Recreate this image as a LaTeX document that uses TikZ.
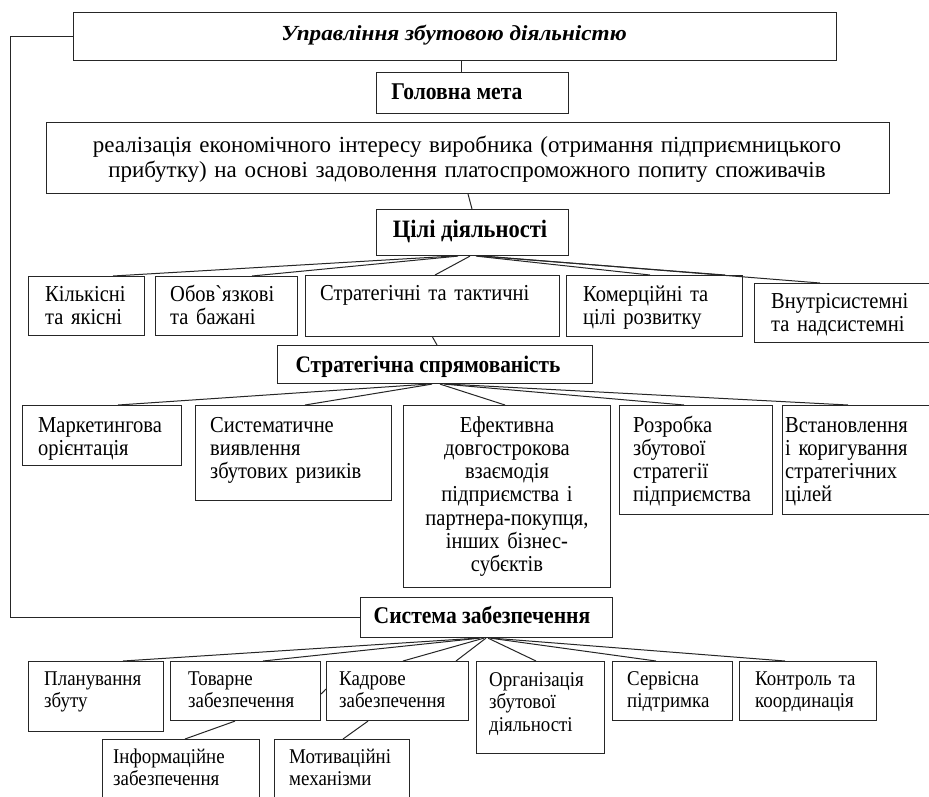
\documentclass[tikz,border=0pt]{standalone}
\usepackage{fontspec}
\setmainfont{Liberation Serif}[Ligatures=TeXOff, FakeStretch=0.9]
\newfontfamily\plainserif{Liberation Serif}[Ligatures=TeXOff]
\newfontfamily\wideserif{Liberation Serif}[Ligatures=TeXOff, FakeStretch=1.08]
\newcommand\rb[5]{\node[box, minimum width={(#4-#2)*1pt}, minimum height={(#5-#3)*1pt}] (#1) at (#2,#3) {};}
\tikzset{
 box/.style={draw=black!85, line width=1.1pt, inner sep=0pt, anchor=north west},
 tl/.style={inner sep=0pt, anchor=base west, align=left, text width=240pt, font=\fontsize{22.8}{23.3}\selectfont},
 tc/.style={inner sep=0pt, anchor=base, align=center, text width=240pt, font=\fontsize{22.8}{23.3}\selectfont},
 ts/.style={tl, font=\fontsize{21}{22.5}\selectfont},
 ttl/.style={inner sep=0pt, anchor=base, font=\bfseries\fontsize{24}{26}\selectfont},
 ln/.style={draw=black!85, line width=1pt},
}
\begin{document}
\begin{tikzpicture}[x=1pt,y=-1pt]
\useasboundingbox (0,0) rectangle (929,796);
\clip (0,0) rectangle (929,796);
\fill[white] (0,0) rectangle (929,796);
% boxes
\rb{top}{73}{12}{836}{60}
\node[ttl, font=\wideserif\bfseries\itshape\fontsize{21.5}{24}\selectfont] (top-t) at (454,40) {Управління збутовою діяльністю};
\rb{gol}{376}{72}{568}{113}
\node[ttl] (gol-t) at (457,99) {Головна мета};
\rb{big}{46}{122}{889}{193}
\node[tc, text width=840pt, font=\plainserif\fontsize{23}{25}\selectfont] (big-t) at (467,152) {реалізація економічного інтересу виробника (отримання підприємницького\\прибутку) на основі задоволення платоспроможного попиту споживачів};
\rb{cily}{376}{209}{568}{255}
\node[ttl, font=\bfseries\fontsize{25}{26}\selectfont] (cily-t) at (470,237) {Цілі діяльності};
% row 1
\rb{kil}{28}{276}{144}{335}
\node[tl] (kil-t) at (45,301) {Кількісні\\та якісні};
\rb{obo}{155}{276}{297}{335}
\node[tl] (obo-t) at (170,301) {Обов`язкові\\та бажані};
\rb{str}{305}{275}{559}{336}
\node[tl] (str-t) at (320,300) {Стратегічні та тактичні};
\rb{kom}{566}{275}{742}{336}
\node[tl] (kom-t) at (583,301) {Комерційні та\\цілі розвитку};
\rb{vnu}{754}{283}{935}{342}
\node[tl] (vnu-t) at (771,308) {Внутрісистемні\\та надсистемні};
\rb{stsp}{277}{345}{592}{383}
\node[ttl, font=\bfseries\fontsize{23.7}{26}\selectfont] (stsp-t) at (428,372) {Стратегічна спрямованість};
% row 2
\rb{mar}{22}{405}{181}{465}
\node[tl] (mar-t) at (38,432) {Маркетингова\\орієнтація};
\rb{sysm}{195}{405}{391}{500}
\node[tl] (sysm-t) at (210,432) {Систематичне\\виявлення\\збутових ризиків};
\rb{efe}{403}{405}{610}{587}
\node[tc] (efe-t) at (507,432) {Ефективна\\довгострокова\\взаємодія\\підприємства і\\партнера-покупця,\\інших бізнес-\\субєктів};
\rb{roz}{619}{405}{772}{514}
\node[tl] (roz-t) at (633,432) {Розробка\\збутової\\стратегії\\підприємства};
\rb{vst}{782}{405}{935}{514}
\node[tl] (vst-t) at (785,432) {Встановлення\\і коригування\\стратегічних\\цілей};
\rb{zab}{360}{597}{612}{637}
\node[ttl] (zab-t) at (482,623) {Система забезпечення};
% row 3
\rb{pla}{28}{661}{163}{731}
\node[ts] (pla-t) at (44,685) {Планування\\збуту};
\rb{tov}{170}{661}{320}{720}
\node[ts] (tov-t) at (188,685) {Товарне\\забезпечення};
\rb{kad}{326}{661}{468}{720}
\node[ts] (kad-t) at (339,685) {Кадрове\\забезпечення};
\rb{org}{476}{661}{604}{753}
\node[ts] (org-t) at (489,686) {Організація\\збутової\\діяльності};
\rb{ser}{612}{661}{732}{720}
\node[ts] (ser-t) at (627,685) {Сервісна\\підтримка};
\rb{kon}{739}{661}{876}{720}
\node[ts] (kon-t) at (755,685) {Контроль та\\координація};
% row 4
\rb{inf}{102}{739}{259}{820}
\node[ts] (inf-t) at (113,763) {Інформаційне\\забезпечення};
\rb{mot}{274}{739}{409}{820}
\node[ts] (mot-t) at (289,763) {Мотиваційні\\механізми};
% connectors
\draw[ln] (top.west) -- ++(-63,0) |- (zab.west);
\draw[ln] ([xshift=388pt]top.south west) -- ([xshift=85pt]gol.north west);
\draw[ln] (big.south) -- ([xshift=96pt]cily.north west);
\draw[ln] ([xshift=76pt]cily.south west) -- ([xshift=85pt]kil.north west);
\draw[ln] ([xshift=82pt]cily.south west) -- ([xshift=97pt]obo.north west);
\draw[ln] ([xshift=94pt]cily.south west) -- ([xshift=130pt]str.north west);
\draw[ln] ([xshift=100pt]cily.south west) -- ([xshift=84pt]kom.north west);
\draw[ln] ([xshift=104pt]cily.south west) -- ([xshift=159pt]kom.north west);
\draw[ln] ([xshift=108pt]cily.south west) -- ([xshift=66pt]vnu.north west);
\draw[ln] (str.south) -- ([xshift=160pt]stsp.north west);
\draw[ln] ([xshift=151pt]stsp.south west) -- ([xshift=96pt]mar.north west);
\draw[ln] ([xshift=155pt]stsp.south west) -- ([xshift=110pt]sysm.north west);
\draw[ln] ([xshift=163pt]stsp.south west) -- ([xshift=102pt]efe.north west);
\draw[ln] ([xshift=167pt]stsp.south west) -- ([xshift=65pt]roz.north west);
\draw[ln] ([xshift=171pt]stsp.south west) -- ([xshift=66pt]vst.north west);
\draw[ln] ([xshift=118pt]zab.south west) -- ([xshift=95pt]pla.north west);
\draw[ln] ([xshift=120pt]zab.south west) -- ([xshift=93pt]tov.north west);
\draw[ln] ([xshift=124pt]zab.south west) -- ([xshift=77pt]kad.north west);
\draw[ln] ([xshift=126pt]zab.south west) -- ([xshift=130pt]kad.north west);
\draw[ln] ([xshift=128pt]zab.south west) -- ([xshift=60pt]org.north west);
\draw[ln] ([xshift=130pt]zab.south west) -- ([xshift=44pt]ser.north west);
\draw[ln] ([xshift=132pt]zab.south west) -- ([xshift=46pt]kon.north west);
\draw[ln] ([yshift=-33pt]tov.north east) -- ([yshift=-28pt]kad.north west);
\draw[ln] ([xshift=65pt]tov.south west) -- ([xshift=83pt]inf.north west);
\draw[ln] ([xshift=42pt]kad.south west) -- ([xshift=69pt]mot.north west);
\end{tikzpicture}
\end{document}
